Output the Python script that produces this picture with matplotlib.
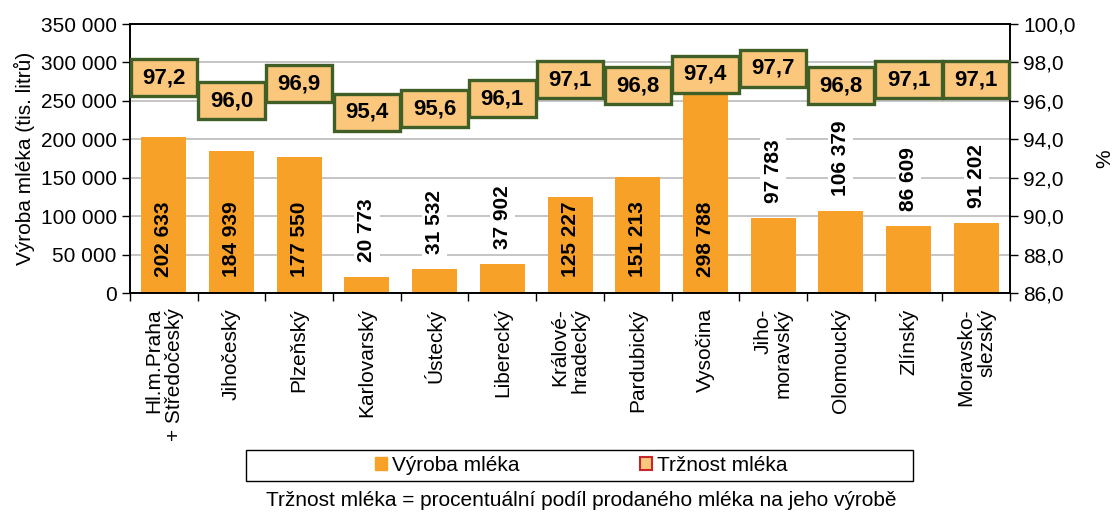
import matplotlib
matplotlib.use('Agg')
import matplotlib.pyplot as plt
from matplotlib.patches import Patch, Rectangle
from matplotlib.path import Path
from matplotlib.ticker import FuncFormatter, MultipleLocator

plt.rcParams['font.family'] = ['Liberation Sans', 'DejaVu Sans']

# data
kraje = ['Hl.m.Praha\n+ Středočeský', 'Jihočeský', 'Plzeňský', 'Karlovarský',
         'Ústecký', 'Liberecký', 'Králové-\nhradecký', 'Pardubický', 'Vysočina',
         'Jiho-\nmoravský', 'Olomoucký', 'Zlínský', 'Moravsko-\nslezský']
vyroba = [202633, 184939, 177550, 20773, 31532, 37902, 125227, 151213,
          298788, 97783, 106379, 86609, 91202]
trznost = [97.2, 96.0, 96.9, 95.4, 95.6, 96.1, 97.1, 96.8, 97.4, 97.7,
           96.8, 97.1, 97.1]

c_bar = '#F7A128'
c_box = '#FAC77D'
c_edge = '#3F5F26'
fs = 15


def wide_box(x0, y0, width, height, mutation_size):
    # ramecek sirsi nez vyssi (jako v Excelu)
    px = 0.52 * mutation_size
    py = 0.36 * mutation_size
    x1, y1 = x0 - px, y0 - py
    x2, y2 = x0 + width + px, y0 + height + py
    return Path([(x1, y1), (x2, y1), (x2, y2), (x1, y2), (x1, y1)], closed=True)


fig = plt.figure(figsize=(11.13, 5.12), dpi=100)
ax = fig.add_axes([0.1168, 0.4277, 0.7907, 0.5253])
ax2 = ax.twinx()

x = list(range(len(kraje)))
ax.bar(x, vyroba, width=0.665, color=c_bar, zorder=2)

ax.set_xlim(-0.5, len(kraje) - 0.5)
ax.set_ylim(0, 350000)
ax.yaxis.set_major_locator(MultipleLocator(50000))
ax.yaxis.set_major_formatter(FuncFormatter(lambda v, p: f'{int(v):,}'.replace(',', ' ')))
ax.grid(axis='y', color='#C0C0C0', lw=1.3)
ax.set_axisbelow(True)

ax.set_xticks(x)
ax.set_xticklabels(kraje, rotation=90, ha='center', va='top', fontsize=fs,
                   multialignment='right', linespacing=1.1)
ax.set_xticks([i + 0.5 for i in range(-1, len(kraje))], minor=True)
ax.tick_params(axis='x', which='major', length=0, pad=11)
ax.tick_params(axis='x', which='minor', length=6, width=1, direction='out')
ax.tick_params(axis='y', labelsize=fs, length=6, width=1, direction='out')
ax.set_ylabel('Výroba mléka (tis. litrů)', fontsize=fs, labelpad=4)

for s in ax.spines.values():
    s.set_linewidth(1.2)

# popisky sloupcu
for i, v in enumerate(vyroba):
    txt = f'{v:,}'.replace(',', ' ')
    if v > 120000:
        ax.annotate(txt, (i, 0), xytext=(0, 11.5), textcoords='offset points',
                    rotation=90, ha='center', va='bottom', fontsize=fs,
                    fontweight='bold', zorder=3)
    else:
        ax.annotate(txt, (i, v), xytext=(0, 11), textcoords='offset points',
                    rotation=90, ha='center', va='bottom', fontsize=fs,
                    fontweight='bold', zorder=3,
                    bbox=dict(boxstyle='square,pad=0.15', fc='white', ec='none'))

# trznost - prava osa
ax2.set_ylim(86, 100)
ax2.yaxis.set_major_locator(MultipleLocator(2))
ax2.yaxis.set_major_formatter(FuncFormatter(lambda v, p: f'{v:.1f}'.replace('.', ',')))
ax2.tick_params(axis='y', labelsize=fs, length=6, width=1, direction='out')
ax2.set_ylabel('%', fontsize=fs, labelpad=14)
for s in ax2.spines.values():
    s.set_linewidth(1.2)
ax2.plot(x, trznost, linestyle='none')
for i, t in enumerate(trznost):
    ax2.text(i, t, f'{t:.1f}'.replace('.', ','), ha='center', va='center',
             fontsize=16, fontweight='bold', zorder=5,
             bbox=dict(boxstyle=wide_box, fc=c_box, ec=c_edge, lw=2.4))

# legenda
fig.patches.append(Rectangle((246 / 1113, 1 - 481 / 512), 667 / 1113, 31 / 512,
                             transform=fig.transFigure, fill=False, ec='black', lw=1))
handles = [Patch(fc=c_bar, ec=c_bar), Patch(fc=c_box, ec='#C8262C', lw=1.5)]
fig.legend(handles, ['Výroba mléka', 'Tržnost mléka'], loc='center',
           bbox_to_anchor=(581 / 1113, 1 - 465.5 / 512), ncol=2, frameon=False,
           fontsize=fs, handlelength=0.6, handleheight=0.6, handletextpad=0.2,
           columnspacing=5.8)

fig.text(581 / 1113, 1 - 500 / 512,
         'Tržnost mléka = procentuální podíl prodaného mléka na jeho výrobě',
         ha='center', va='center', fontsize=fs)

fig.savefig('out.png', dpi=100)
